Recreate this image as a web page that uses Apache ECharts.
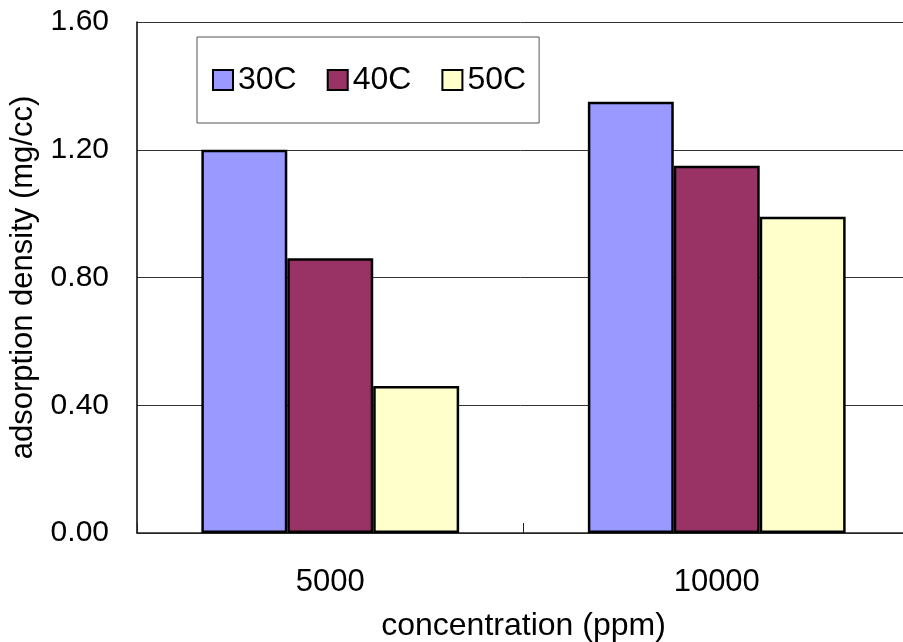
<!DOCTYPE html>
<html>
<head>
<meta charset="utf-8">
<script src="https://cdn.jsdelivr.net/npm/echarts@6/dist/echarts.min.js"></script>
<style>
  html, body { margin: 0; padding: 0; background: #fff; }
  #chart { width: 903px; height: 642px; }
</style>
</head>
<body>
<div id="chart"></div>
<script>
// Concentrations on the category axis
const concentrations = ['5000', '10000'];

// Adsorption density (mg/cc) at each temperature
const temps = ['30C', '40C', '50C'];
const density30C = [1.20, 1.35];
const density40C = [0.86, 1.15];
const density50C = [0.46, 0.99];

const yTicks = { min: 0, max: 1.6, interval: 0.4 };

const FONT = '"Liberation Sans", Arial, sans-serif';
const colors = ['#9999FF', '#993366', '#FFFFCC'];
const values = [density30C, density40C, density50C];

const chart = echarts.init(document.getElementById('chart'), null, { renderer: 'canvas' });

chart.setOption({
  animation: false,
  backgroundColor: '#ffffff',
  textStyle: { fontFamily: FONT, color: '#000' },
  grid: {
    left: 137, top: 22, right: -7, bottom: 109,
    containLabel: false,
    outerBoundsMode: 'none'
  },
  legend: {
    data: temps,
    left: 197,
    top: 37,
    orient: 'horizontal',
    padding: [27, 13, 27, 15],
    itemWidth: 20,
    itemHeight: 20,
    itemGap: 30,
    borderColor: '#555',
    borderWidth: 1,
    backgroundColor: '#fff',
    icon: 'rect',
    itemStyle: { borderColor: '#000', borderWidth: 2 },
    textStyle: { fontFamily: FONT, fontSize: 32, color: '#000' }
  },
  xAxis: {
    type: 'category',
    data: concentrations,
    boundaryGap: true,
    name: 'concentration (ppm)',
    nameLocation: 'middle',
    nameGap: 77,
    nameTextStyle: { fontFamily: FONT, fontSize: 32, color: '#000' },
    axisLine: { lineStyle: { color: '#222', width: 1.5 } },
    axisTick: { show: true, inside: true, length: 10, lineStyle: { color: '#222' } },
    axisLabel: { fontFamily: FONT, fontSize: 31, color: '#000', margin: 34 },
    splitLine: { show: false }
  },
  yAxis: {
    type: 'value',
    min: yTicks.min,
    max: yTicks.max,
    interval: yTicks.interval,
    name: 'adsorption density (mg/cc)',
    nameLocation: 'middle',
    nameGap: 98,
    nameRotate: 90,
    nameTextStyle: { fontFamily: FONT, fontSize: 31, color: '#000' },
    axisLine: { show: true, lineStyle: { color: '#000', width: 1.5 } },
    axisTick: { show: false },
    axisLabel: {
      fontFamily: FONT, fontSize: 30, color: '#000', margin: 28,
      formatter: v => v.toFixed(2)
    },
    splitLine: { show: true, lineStyle: { color: '#333', width: 1 } }
  },
  series: temps.map((t, i) => ({
    name: t,
    type: 'bar',
    data: values[i],
    barGap: '0%',
    barCategoryGap: '33.3%',
    itemStyle: { color: colors[i], borderColor: '#000', borderWidth: 2.5 },
    emphasis: { disabled: true }
  }))
});
</script>
</body>
</html>
